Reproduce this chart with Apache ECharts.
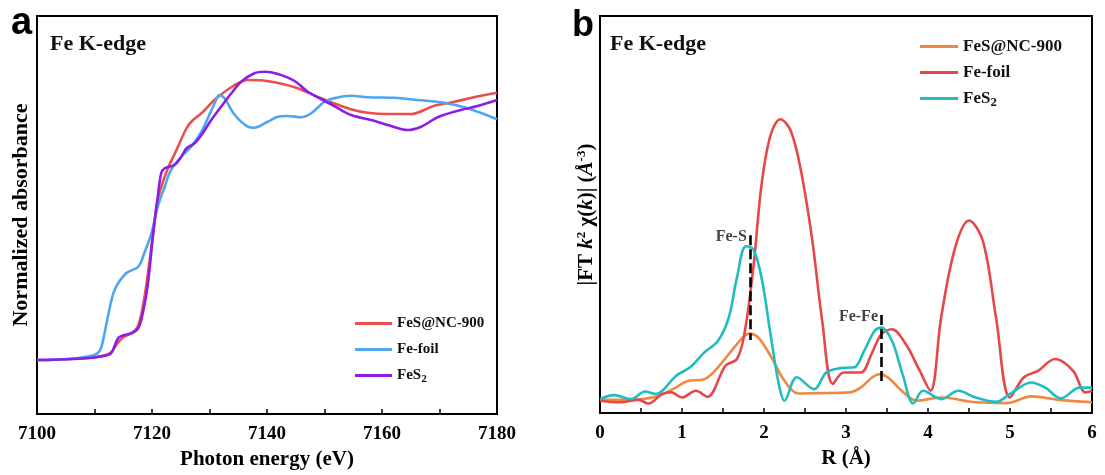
<!DOCTYPE html>
<html>
<head>
<meta charset="utf-8">
<script src="https://cdn.jsdelivr.net/npm/echarts@6/dist/echarts.min.js"></script>
<style>html,body{margin:0;padding:0;background:#fff}#c{width:1105px;height:475px}</style>
</head>
<body>
<div id="c"></div>
<script>
// ---------- Panel a : XANES ----------
const aXTicks = [7100, 7120, 7140, 7160, 7180];
const aNcE = [7100,7104,7108,7110,7112,7113,7114,7115,7116.4,7117.5,7118.4,7119.3,7120.2,7121,7122,7123,7124,7126,7127,7128.6,7131,7134.4,7136.7,7140,7144.8,7149.4,7154.6,7157.5,7161,7165,7169,7172.6,7176,7180];
const aNcA = [0,0.002,0.007,0.011,0.02,0.033,0.067,0.091,0.107,0.133,0.213,0.347,0.507,0.64,0.72,0.78,0.827,0.927,0.957,0.987,1.043,1.1,1.12,1.116,1.091,1.047,1.003,0.989,0.984,0.984,1.016,1.033,1.051,1.069];
const aFoilE = [7100,7105,7108,7110,7111,7111.5,7112.3,7113.5,7115.5,7117.6,7118.7,7119.9,7121,7122.2,7123.3,7125.1,7126.8,7128.6,7129.7,7130.9,7131.7,7132.6,7134.4,7136.7,7137.8,7140.1,7141.9,7143.6,7145.9,7147.7,7150,7151.7,7154.6,7157.5,7162.2,7166.2,7170.8,7174.9,7180];
const aFoilA = [0,0.003,0.011,0.02,0.04,0.08,0.17,0.28,0.347,0.373,0.43,0.507,0.613,0.693,0.76,0.813,0.853,0.913,0.967,1.027,1.06,1.047,0.98,0.933,0.929,0.953,0.973,0.976,0.971,0.987,1.033,1.047,1.057,1.051,1.049,1.04,1.029,1.007,0.963];
const aFeS2E = [7100,7104,7108,7110,7112,7112.9,7114.1,7115.2,7116.4,7117.6,7118.4,7119.3,7120.2,7121,7121.6,7122.2,7123.9,7125.1,7126,7127.4,7128.6,7130.3,7132,7133.8,7135.5,7137.8,7139.6,7141.9,7144.8,7147.1,7149.4,7151.7,7154.6,7158.1,7161,7164.5,7166.8,7169.7,7173.7,7176.6,7180];
const aFeS2A = [0,0.002,0.006,0.01,0.018,0.027,0.087,0.1,0.107,0.127,0.187,0.307,0.507,0.653,0.747,0.767,0.78,0.813,0.847,0.867,0.9,0.96,1.013,1.067,1.113,1.147,1.153,1.144,1.116,1.073,1.044,1.016,0.98,0.96,0.94,0.92,0.933,0.971,1.0,1.016,1.04];

// ---------- Panel b : FT-EXAFS ----------
const bXTicks = [0, 1, 2, 3, 4, 5, 6];
const bNcR = [0,0.34,0.68,0.89,1.06,1.27,1.4,1.57,1.74,1.82,1.93,2.08,2.25,2.42,2.63,3.05,3.18,3.31,3.41,3.52,3.69,3.86,4.16,4.58,4.96,5.26,5.6,6];
const bNcF = [0.33,0.33,0.41,0.6,0.8,0.85,1.06,1.48,1.9,2.0,1.9,1.44,0.81,0.49,0.5,0.52,0.64,0.88,0.98,0.88,0.54,0.31,0.39,0.27,0.25,0.42,0.33,0.27];
const bFoilR = [0,0.25,0.47,0.59,0.76,0.87,1.0,1.17,1.31,1.53,1.67,1.76,1.87,1.97,2.08,2.2,2.33,2.46,2.59,2.71,2.84,2.97,3.18,3.31,3.43,3.56,3.73,3.9,4.03,4.16,4.33,4.5,4.67,4.83,5.0,5.17,5.34,5.55,5.77,5.92,6];
const bFoilF = [0.31,0.27,0.33,0.24,0.48,0.52,0.39,0.56,0.41,1.19,1.36,1.98,3.66,5.75,7.0,7.4,7.09,6.0,4.33,2.32,0.73,1.02,1.02,1.48,1.98,2.11,1.73,1.06,0.56,2.4,4.16,4.85,4.33,2.4,0.39,0.9,1.06,1.36,1.06,0.52,0.56];
const bFeS2R = [0,0.17,0.38,0.55,0.68,0.76,0.93,1.1,1.27,1.44,1.57,1.67,1.78,1.87,1.97,2.08,2.18,2.25,2.4,2.61,2.76,2.93,3.1,3.22,3.35,3.43,3.56,3.69,3.82,3.94,4.16,4.37,4.58,4.83,5.0,5.26,5.43,5.62,5.85,6];
const bFeS2F = [0.35,0.45,0.35,0.54,0.48,0.56,0.94,1.15,1.52,1.82,2.4,3.41,4.2,4.12,3.41,1.98,0.73,0.31,0.9,0.6,1.02,1.13,1.15,1.56,2.07,2.15,1.82,0.98,0.24,0.56,0.35,0.56,0.39,0.28,0.48,0.77,0.64,0.37,0.64,0.64];

// annotations (dashed markers)
const annotText = ['Fe-S', 'Fe-Fe'];
const annotR = [1.83, 3.43];
const annotTop = [4.48, 2.47];
const annotBottom = [1.84, 0.78];

const seriesNames = ['FeS@NC-900', 'Fe-foil', 'FeS2'];

const zip = (x, y) => x.map((v, i) => [v, y[i]]);
const SERIF = '"Liberation Serif","Times New Roman",serif';
const SANS = '"Liberation Sans",Arial,sans-serif';

function lineSeries(name, data, color, gi) {
  return {
    name: name, type: 'line', xAxisIndex: gi, yAxisIndex: gi,
    data: data, smooth: 0.35, symbol: 'none', showSymbol: false,
    lineStyle: { color: color, width: 2.6 }, itemStyle: { color: color },
    silent: true, z: 3
  };
}

const legendFmt = n => {
  const base = n.slice(2);
  return base === 'FeS2' ? '{t|FeS}{s|2}' : '{t|' + base + '}';
};
function legendStyle(size) {
  return {
    fontFamily: SERIF, fontWeight: 'bold', fontSize: size, color: '#111',
    rich: {
      t: { fontFamily: SERIF, fontWeight: 'bold', fontSize: size, color: '#111' },
      s: { fontFamily: SERIF, fontWeight: 'bold', fontSize: size * 0.75, color: '#111', padding: [size * 0.45, 0, 0, 0] }
    }
  };
}

const axisCommon = {
  axisLine: { show: true, onZero: false, lineStyle: { color: '#000', width: 2 } },
  splitLine: { show: false }
};

const option = {
  animation: false,
  backgroundColor: '#fff',
  grid: [
    { left: 37, right: 608, top: 16, bottom: 61, show: true, borderColor: '#000', borderWidth: 2 },
    { left: 600, right: 13, top: 16, bottom: 62, show: true, borderColor: '#000', borderWidth: 2 }
  ],
  xAxis: [
    Object.assign({}, axisCommon, {
      gridIndex: 0, type: 'value', min: 7100, max: 7180, interval: 10,
      axisTick: { show: true, inside: true, length: 5, lineStyle: { color: '#000', width: 1.5 } },
      axisLabel: { color: '#000', fontFamily: SERIF, fontWeight: 'bold', fontSize: 19, margin: 11,
        formatter: v => aXTicks.indexOf(v) >= 0 ? String(v) : '' },
      name: 'Photon energy (eV)', nameLocation: 'middle', nameGap: 33,
      nameTextStyle: { color: '#000', fontFamily: SERIF, fontWeight: 'bold', fontSize: 21 }
    }),
    Object.assign({}, axisCommon, {
      gridIndex: 1, type: 'value', min: 0, max: 6, interval: 0.5,
      axisTick: { show: true, inside: true, length: 5, lineStyle: { color: '#000', width: 1.5 } },
      axisLabel: { color: '#000', fontFamily: SERIF, fontWeight: 'bold', fontSize: 19, margin: 11,
        formatter: v => bXTicks.indexOf(v) >= 0 ? String(v) : '' },
      name: 'R (Å)', nameLocation: 'middle', nameGap: 33,
      nameTextStyle: { color: '#000', fontFamily: SERIF, fontWeight: 'bold', fontSize: 21 }
    })
  ],
  yAxis: [
    Object.assign({}, axisCommon, {
      gridIndex: 0, type: 'value', min: -0.216, max: 1.376,
      axisTick: { show: false }, axisLabel: { show: false },
      name: 'Normalized absorbance', nameLocation: 'middle', nameGap: 5, nameRotate: 90,
      nameTextStyle: { color: '#000', fontFamily: SERIF, fontWeight: 'bold', fontSize: 22 }
    }),
    Object.assign({}, axisCommon, {
      gridIndex: 1, type: 'value', min: 0, max: 10,
      axisTick: { show: false }, axisLabel: { show: false },
      name: '|FT {i|k}{sup|2} χ({i|k})| ({i|Å}{sup|-3})', nameLocation: 'middle', nameGap: 2, nameRotate: 90,
      nameTextStyle: { color: '#000', fontFamily: SERIF, fontWeight: 'bold', fontSize: 21,
        rich: {
          i: { fontFamily: SERIF, fontWeight: 'bold', fontStyle: 'italic', fontSize: 21, color: '#000' },
          sup: { fontFamily: SERIF, fontWeight: 'bold', fontSize: 13, color: '#000', verticalAlign: 'top', padding: [0, 0, 10, 0] }
        } }
    })
  ],
  legend: [
    { data: seriesNames.map(n => 'a:' + n), left: 350, top: 311, orient: 'vertical', icon: 'rect',
      itemWidth: 37, itemHeight: 3, itemGap: 11, formatter: legendFmt, textStyle: legendStyle(15),
      selectedMode: false },
    { data: seriesNames.map(n => 'b:' + n), left: 915, top: 33, orient: 'vertical', icon: 'rect',
      itemWidth: 38, itemHeight: 3, itemGap: 9, formatter: legendFmt, textStyle: legendStyle(17),
      selectedMode: false }
  ],
  graphic: [
    { type: 'text', left: 11, top: 5, style: { text: 'a', fontFamily: SANS, fontWeight: 'bold', fontSize: 38, fill: '#000' } },
    { type: 'text', left: 572, top: 8, style: { text: 'b', fontFamily: SANS, fontWeight: 'bold', fontSize: 36, fill: '#000' } },
    { type: 'text', left: 50, top: 33, style: { text: 'Fe K-edge', fontFamily: SERIF, fontWeight: 'bold', fontSize: 22, fill: '#111' } },
    { type: 'text', left: 610, top: 33, style: { text: 'Fe K-edge', fontFamily: SERIF, fontWeight: 'bold', fontSize: 22, fill: '#111' } }
  ],
  series: [
    lineSeries('a:FeS@NC-900', zip(aNcE, aNcA), '#ec4d4d', 0),
    lineSeries('a:Fe-foil', zip(aFoilE, aFoilA), '#4ea5f2', 0),
    lineSeries('a:FeS2', zip(aFeS2E, aFeS2A), '#8a1ee6', 0),
    lineSeries('b:FeS@NC-900', zip(bNcR, bNcF), '#f0883e', 1),
    lineSeries('b:Fe-foil', zip(bFoilR, bFoilF), '#e8474a', 1),
    lineSeries('b:FeS2', zip(bFeS2R, bFeS2F), '#1fbcc0', 1),
    {
      name: 'annot', type: 'scatter', xAxisIndex: 1, yAxisIndex: 1, symbolSize: 0, silent: true, z: 5,
      data: annotR.map((r, i) => [r - 0.04, annotTop[i] - 0.05, annotText[i]]),
      label: { show: true, position: 'left', distance: 0, formatter: p => p.data[2],
        fontFamily: SERIF, fontWeight: 'bold', fontSize: 16, color: '#111' },
      markLine: {
        silent: true, symbol: ['none', 'none'], animation: false,
        lineStyle: { color: '#000', type: [10, 4], width: 2.6 },
        label: { show: false },
        data: annotR.map((r, i) => [{ coord: [r, annotTop[i]] }, { coord: [r, annotBottom[i]] }])
      }
    }
  ]
};

const chart = echarts.init(document.getElementById('c'), null, { renderer: 'canvas' });
chart.setOption(option);
</script>
</body>
</html>
